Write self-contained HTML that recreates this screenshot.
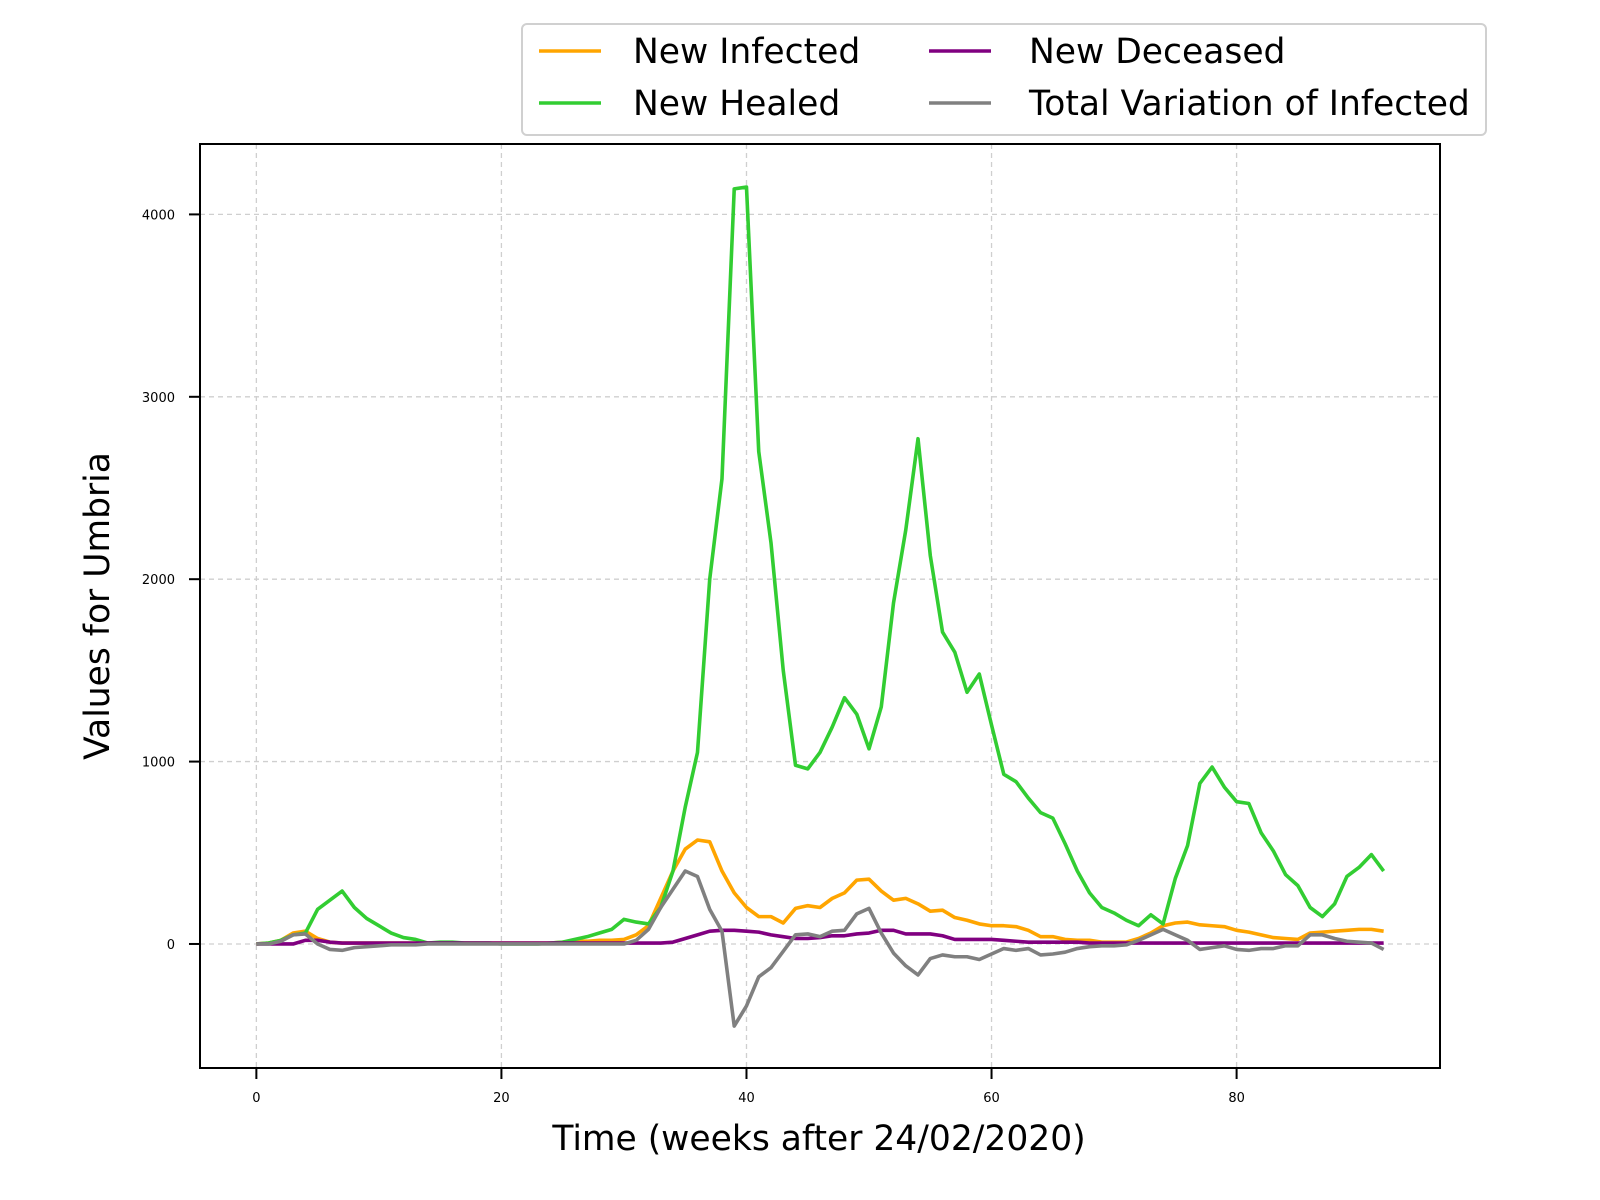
<!DOCTYPE html>
<html><head><meta charset="utf-8"><style>body{margin:0;background:#fff}svg{display:block}text{font-family:"DejaVu Sans","Liberation Sans",sans-serif}</style></head>
<body>
<svg id="chart" width="1600" height="1200" xmlns="http://www.w3.org/2000/svg"></svg>
<script>
const weeks = Array.from({length:93},(_,i)=>i);
const infected = [0,5,20,60,70,30,10,5,5,5,5,5,5,5,5,5,5,5,5,5,5,5,5,5,5,10,15,15,20,20,25,50,100,250,400,520,570,560,400,280,200,150,150,115,195,210,200,250,280,350,355,290,240,250,220,180,185,145,130,110,100,100,95,75,40,40,25,20,20,10,10,10,30,60,100,115,120,105,100,95,75,65,50,35,30,25,60,65,70,75,80,80,70];
const healed = [0,5,20,50,60,190,240,290,200,140,100,60,35,25,5,10,10,5,5,5,0,0,0,0,5,10,25,40,60,80,135,120,110,200,400,750,1050,2000,2550,4140,4150,2700,2200,1500,980,960,1050,1190,1350,1260,1070,1300,1870,2270,2770,2130,1710,1600,1380,1480,1200,930,890,800,720,690,550,400,280,200,170,130,100,160,110,360,540,880,970,860,780,770,610,510,380,320,200,150,220,370,420,490,400];
const deceased = [0,0,0,0,20,20,10,5,5,5,5,5,5,5,5,5,5,5,5,5,5,5,5,5,5,5,5,5,5,5,5,5,5,5,10,30,50,70,75,75,70,65,50,40,30,30,35,45,45,55,60,75,75,55,55,55,45,25,25,25,25,20,15,10,10,10,10,10,5,5,5,5,5,5,5,5,5,5,5,5,5,5,5,5,5,5,5,5,5,5,5,5,5];
const variation = [0,0,15,50,55,0,-30,-35,-20,-15,-10,-5,-5,-5,0,0,0,0,0,0,0,0,0,0,0,0,0,0,0,0,0,20,80,200,300,400,370,190,70,-450,-340,-180,-130,-40,50,55,40,70,75,165,195,60,-50,-120,-170,-80,-60,-70,-70,-85,-55,-25,-35,-25,-60,-55,-45,-25,-15,-10,-10,-5,20,50,80,50,20,-30,-20,-10,-30,-35,-25,-25,-10,-10,50,50,30,15,10,5,-30];
const xTicks = [0,20,40,60,80];
const yTicks = [0,1000,2000,3000,4000];

const L=200,R=1440,T=144,B=1068;
const xMin=-4.6,xMax=96.6,yMin=-680,yMax=4386;
const X=v=>L+(v-xMin)/(xMax-xMin)*(R-L);
const Y=v=>B-(v-yMin)/(yMax-yMin)*(B-T);
const svg=document.getElementById('chart');
const NS='http://www.w3.org/2000/svg';
function mk(tag,attrs,parent){const e=document.createElementNS(NS,tag);for(const k in attrs)e.setAttribute(k,attrs[k]);(parent||svg).appendChild(e);return e;}

xTicks.forEach(t=>{
  const g=mk('line',{x1:X(t),x2:X(t),y1:T,y2:B,stroke:'#cfcfcf','stroke-width':1.3,'stroke-dasharray':'5,4'});
  
  
  const tk=mk('line',{x1:X(t),x2:X(t),y1:B,y2:B+11,stroke:'#000','stroke-width':2});
  
  
  const tl=mk('text',{x:X(t),y:B+34,'font-size':13,'text-anchor':'middle'});
  tl.textContent=t;
  
  
});
yTicks.forEach(t=>{
  const g=mk('line',{x1:L,x2:R,y1:Y(t),y2:Y(t),stroke:'#cfcfcf','stroke-width':1.3,'stroke-dasharray':'5,4'});
  
  
  const tk=mk('line',{x1:L-11,x2:L,y1:Y(t),y2:Y(t),stroke:'#000','stroke-width':2});
  
  
  const tl=mk('text',{x:L-25,y:Y(t)+5,'font-size':13,'text-anchor':'end'});
  tl.textContent=t;
  
  
});

const series=[[infected,'#ffa500','new-infected-line'],[healed,'#32cd32','new-healed-line'],[deceased,'#800080','new-deceased-line'],[variation,'#808080','total-variation-line']];
series.forEach(([d,c,n])=>{
  const p=mk('polyline',{points:d.map((v,i)=>X(weeks[i])+','+Y(v)).join(' '),fill:'none',stroke:c,'stroke-width':3.6,'stroke-linejoin':'round'});
  
  
});

const frame=mk('rect',{x:L,y:T,width:R-L,height:B-T,fill:'none',stroke:'#000','stroke-width':2});



const xl=mk('text',{x:(L+R)/2-1,y:1150,'font-size':34.5,'text-anchor':'middle'});
xl.textContent='Time (weeks after 24/02/2020)';


const yl=mk('text',{x:0,y:0,'font-size':34.5,'text-anchor':'middle',transform:'translate(109,606) rotate(-90)'});
yl.textContent='Values for Umbria';



const lg=mk('g',{});


mk('rect',{x:522,y:24,width:964,height:111,rx:5,fill:'#fff',stroke:'#d0d0d0','stroke-width':2},lg);
const entries=[['New Infected','#ffa500',539,51,633],['New Deceased','#800080',929,51,1029],['New Healed','#32cd32',539,103,633],['Total Variation of Infected','#808080',929,103,1029]];
entries.forEach(([t,c,x,y,tx0])=>{
  const ge=mk('g',{},lg);
  
  
  mk('line',{x1:x,x2:x+62,y1:y,y2:y,stroke:c,'stroke-width':3.6},ge);
  const tx=mk('text',{x:tx0,y:y+12,'font-size':34.5},ge);
  tx.textContent=t;
});
</script>
</body></html>
